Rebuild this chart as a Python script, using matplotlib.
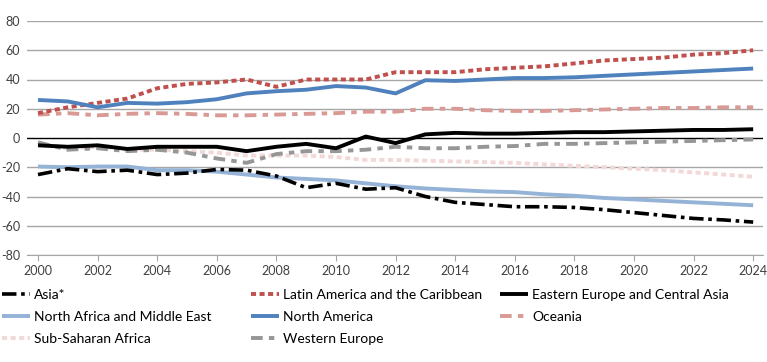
import numpy as np
import matplotlib
matplotlib.use('Agg')
import matplotlib.pyplot as plt

### DATA ====

years = list(range(2000, 2025))

asia = [-25, -21, -23, -22, -25, -24, -21.5, -22, -26, -34, -31, -35, -34,
        -40, -44, -45.5, -47, -47, -47.5, -49, -51, -53, -55, -56, -57.5]
latin = [17, 21, 24, 27, 34, 37, 38, 40, 35, 40, 40, 40, 45,
         45, 45, 47, 48, 49, 51, 53, 54, 55, 57, 58, 60]
east_eu = [-5, -6, -5, -7.5, -6, -6, -6, -9, -6, -4, -7, 1, -3.5,
           2.5, 3.5, 3, 3, 3.5, 4, 4, 4.5, 5, 5.5, 5.5, 6]
nafme = [-19.5, -20, -19.5, -19.5, -22, -22, -23, -25, -27, -28, -29, -31, -33,
         -34.5, -35.5, -36.5, -37, -38.5, -39.5, -41, -42, -43, -44, -45, -46]
n_america = [26, 25, 21, 24, 23.5, 24.5, 26.5, 30.5, 32, 33, 35.5, 34.5, 30.5,
             39.5, 39, 40, 41, 41, 41.5, 42.5, 43.5, 44.5, 45.5, 46.5, 47.5]
oceania = [16, 17, 15.5, 16.5, 17, 16.5, 15.5, 15.5, 16, 16.5, 17, 18, 18,
           20, 20, 19, 18.5, 18.5, 19, 19.5, 20, 20.5, 20.5, 21, 21]
ssa = [-4, -7, -6, -8, -8, -9, -10, -12, -12, -12, -13, -15, -15,
       -15.5, -16, -16.5, -17, -18, -19, -20, -21, -22, -23.5, -25, -26.5]
west_eu = [-3, -8, -7, -9, -8, -10, -14, -17, -11, -9, -9, -8, -6,
           -7, -7, -6, -5.5, -4, -4, -3.5, -3, -2.5, -2, -1.5, -1]

labels = ['Asia*', 'Latin America and the Caribbean', 'Eastern Europe and Central Asia',
          'North Africa and Middle East', 'North America', 'Oceania',
          'Sub-Saharan Africa', 'Western Europe']

xticks = list(range(2000, 2025, 2))
yticks = list(range(-80, 81, 20))

### STYLE ====

plt.rcParams['font.family'] = ['Lato', 'DejaVu Sans']
plt.rcParams['axes.unicode_minus'] = False

styles = [
  dict(color='black', lw=2.6, ls=(0, (4, 1.3, 1, 1.3))),
  dict(color='#c0504d', lw=2.8, ls=(0, (1.3, 0.9))),
  dict(color='black', lw=2.8, ls='-'),
  dict(color='#95b3d7', lw=2.8, ls='-'),
  dict(color='#4f81bd', lw=2.8, ls='-'),
  dict(color='#d99a96', lw=2.8, ls=(0, (3, 1.6, 1.4, 1.6))),
  dict(color='#f2d8d7', lw=2.8, ls=(0, (1.3, 0.9))),
  dict(color='#969696', lw=2.8, ls=(0, (3, 1.6, 1.4, 1.6))),
]
series = [asia, latin, east_eu, nafme, n_america, oceania, ssa, west_eu]

### PLOT ====

fig = plt.figure(figsize=(7.67, 3.62), dpi=100)
ax = fig.add_axes([27 / 767, 1 - 255 / 362, (763 - 27) / 767, (255 - 21) / 362])

for y in yticks:
  ax.axhline(y, color='black' if y == 0 else '#a6a6a6', lw=1.0, zorder=1)

# draw order: back to front
order = [6, 7, 5, 3, 0, 1, 4, 2]
lines = {}
for i in order:
  st = styles[i]
  ln, = ax.plot(years, series[i], color=st['color'], lw=st['lw'], linestyle=st['ls'],
                label=labels[i], zorder=3, solid_capstyle='butt', dash_capstyle='butt')
  lines[i] = ln

ax.set_xlim(1999.63, 2024.33)
ax.set_ylim(-80, 80)
ax.set_xticks(xticks)
ax.set_yticks(yticks)
for s in ['top', 'right', 'left']:
  ax.spines[s].set_visible(False)
ax.spines['bottom'].set_color('#a6a6a6')
ax.tick_params(axis='y', length=0, pad=5, labelsize=9, labelcolor='#404040')
ax.tick_params(axis='x', length=4, color='#a6a6a6', pad=3, labelsize=9, labelcolor='#404040')

# legend, one per column
cols = [[0, 3, 6], [1, 4, 7], [2, 5]]
xs = [2, 251, 500]
for c, x0 in zip(cols, xs):
  leg = fig.legend([lines[i] for i in c], [labels[i] for i in c],
                   loc='upper left', bbox_to_anchor=(x0 / 767, 1 - 289 / 362),
                   frameon=False, fontsize=10, handlelength=2.0, handletextpad=0.3,
                   borderpad=0, borderaxespad=0, labelspacing=0.72)

fig.savefig('out.png', dpi=100)
